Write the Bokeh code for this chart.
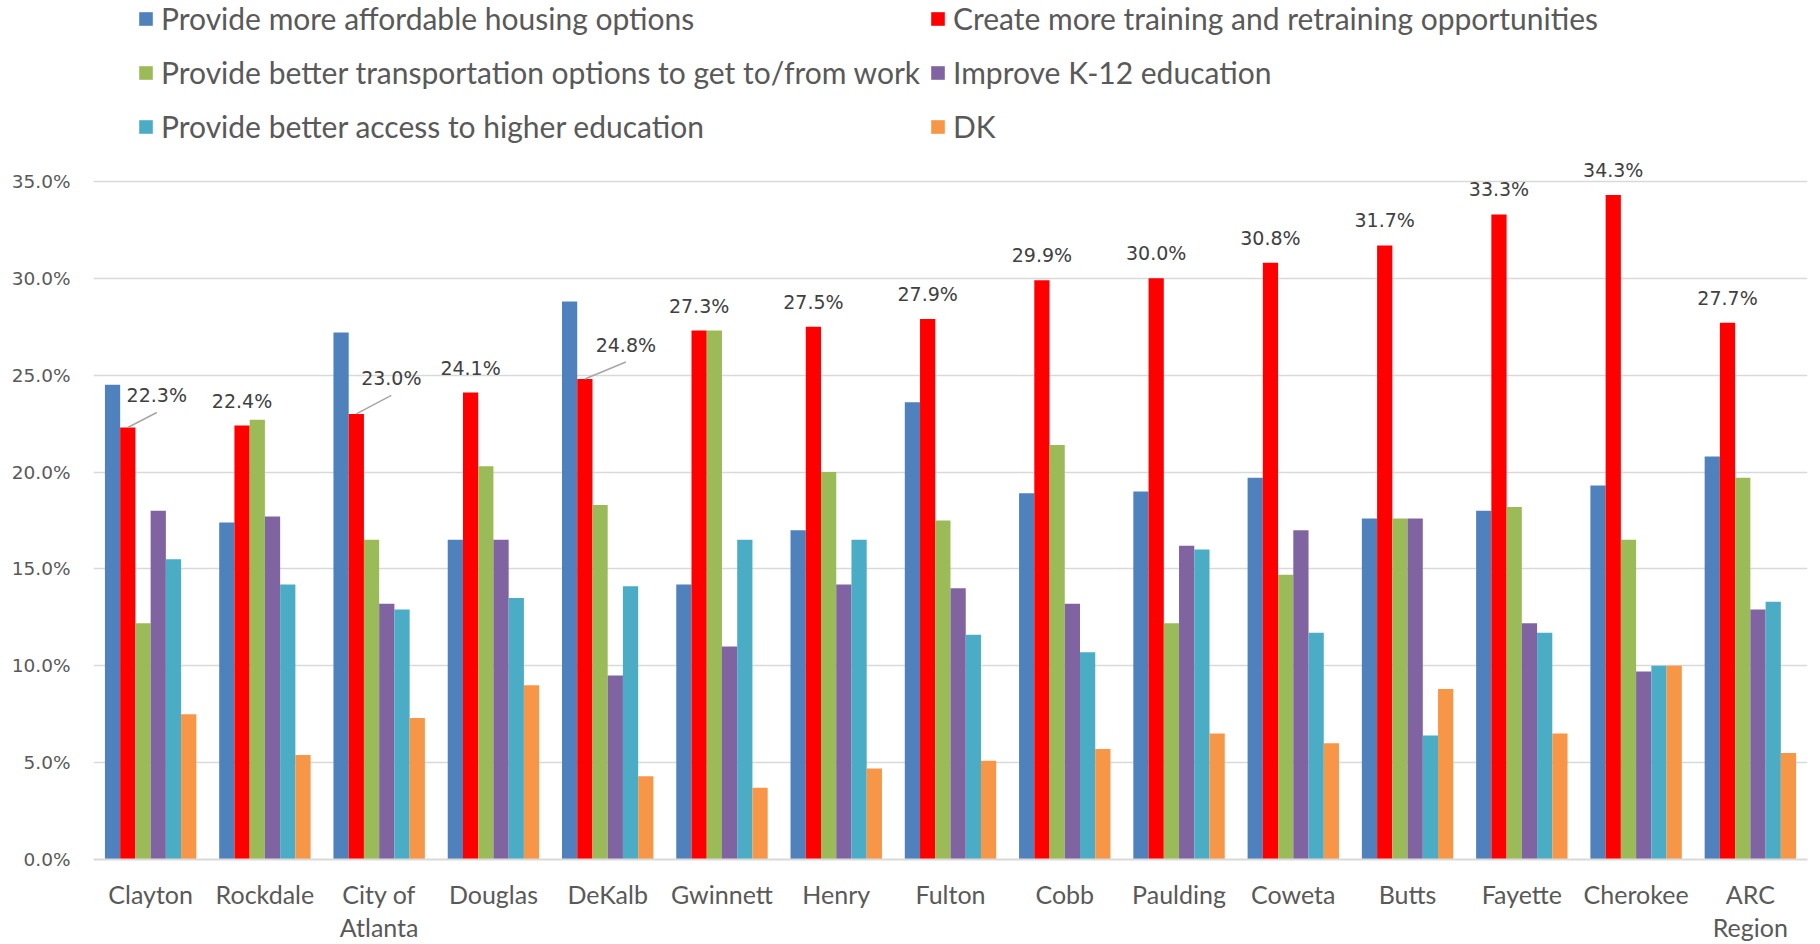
from bokeh.plotting import figure
from bokeh.models import (Range1d, FixedTicker, PrintfTickFormatter, Legend, LegendItem,
                          ColumnDataSource)
from bokeh.transform import dodge
from bokeh.embed import file_html
from bokeh.resources import INLINE
from bokeh.core.properties import value

# ---------------- data ----------------
categories = ["Clayton", "Rockdale", "City of Atlanta", "Douglas", "DeKalb", "Gwinnett", "Henry",
              "Fulton", "Cobb", "Paulding", "Coweta", "Butts", "Fayette", "Cherokee", "ARC Region"]
tick_labels = ["Clayton", "Rockdale", "City of\nAtlanta", "Douglas", "DeKalb", "Gwinnett", "Henry",
               "Fulton", "Cobb", "Paulding", "Coweta", "Butts", "Fayette", "Cherokee", "ARC\nRegion"]

series_names = ["Provide more affordable housing options",
                "Create more training and retraining opportunities",
                "Provide better transportation options to get to/from work",
                "Improve K-12 education",
                "Provide better access to higher education",
                "DK"]

affordable_housing = [24.5, 17.4, 27.2, 16.5, 28.8, 14.2, 17.0, 23.6, 18.9, 19.0, 19.7, 17.6, 18.0, 19.3, 20.8]
training = [22.3, 22.4, 23.0, 24.1, 24.8, 27.3, 27.5, 27.9, 29.9, 30.0, 30.8, 31.7, 33.3, 34.3, 27.7]
transportation = [12.2, 22.7, 16.5, 20.3, 18.3, 27.3, 20.0, 17.5, 21.4, 12.2, 14.7, 17.6, 18.2, 16.5, 19.7]
k12_education = [18.0, 17.7, 13.2, 16.5, 9.5, 11.0, 14.2, 14.0, 13.2, 16.2, 17.0, 17.6, 12.2, 9.7, 12.9]
higher_education = [15.5, 14.2, 12.9, 13.5, 14.1, 16.5, 16.5, 11.6, 10.7, 16.0, 11.7, 6.4, 11.7, 10.0, 13.3]
dont_know = [7.5, 5.4, 7.3, 9.0, 4.3, 3.7, 4.7, 5.1, 5.7, 6.5, 6.0, 8.8, 6.5, 10.0, 5.5]

y_ticks = [0, 5, 10, 15, 20, 25, 30, 35]

# ---------------- styles ----------------
colors = ["#4F81BD", "#FF0000", "#9BBB59", "#8064A2", "#4BACC6", "#F79646"]
W, H = 1820, 944
BORDER_L, BORDER_R, BORDER_T, BORDER_B = 93, 13, 0, 85
Y_TOP = 44.34
GROUP = 0.8
BW = GROUP / 6
TEXT_FONT = "Lato"
NUM_FONT = "DejaVu Sans"
# label nudges in screen px (dx right, dy up) for callout labels
label_nudge = {"Clayton": (29, 32), "City of Atlanta": (35, 35.5), "DeKalb": (41, 34)}
DEFAULT_UP = 25

series = [affordable_housing, training, transportation, k12_education, higher_education, dont_know]
idx = list(range(len(categories)))

src = ColumnDataSource(dict(idx=idx, cat=categories,
                            s0=series[0], s1=series[1], s2=series[2],
                            s3=series[3], s4=series[4], s5=series[5]))

p = figure(width=W, height=H, output_backend="svg", toolbar_location=None,
           x_range=Range1d(-0.5, len(categories) - 0.5), y_range=Range1d(0, Y_TOP),
           min_border_left=BORDER_L, min_border_right=BORDER_R,
           min_border_top=BORDER_T, min_border_bottom=BORDER_B)
p.outline_line_color = None
p.background_fill_color = "white"
p.border_fill_color = "white"

renderers = []
for k in range(6):
    off = (k - 2.5) * BW
    r = p.vbar(x=dodge("idx", off), top=f"s{k}", width=BW, bottom=0, source=src,
               fill_color=colors[k], line_color=None)
    renderers.append(r)

# axes
p.yaxis.ticker = FixedTicker(ticks=y_ticks)
p.yaxis.formatter = PrintfTickFormatter(format="%.1f%%")
p.yaxis.axis_line_color = None
p.yaxis.major_tick_line_color = None
p.yaxis.minor_tick_line_color = None
p.yaxis.major_tick_out = 0
p.yaxis.major_label_standoff = 23
p.yaxis.major_label_text_font = NUM_FONT
p.yaxis.major_label_text_font_size = "18.5px"
p.yaxis.major_label_text_color = "#595959"

p.ygrid.ticker = FixedTicker(ticks=y_ticks)
p.ygrid.grid_line_color = "#d9d9d9"
p.ygrid.grid_line_width = 1.5
p.xgrid.grid_line_color = None

p.xaxis.ticker = FixedTicker(ticks=idx)
p.xaxis.major_label_overrides = {i: t for i, t in zip(idx, tick_labels)}
p.xaxis.axis_line_color = "#d9d9d9"
p.xaxis.axis_line_width = 2
p.xaxis.major_tick_line_color = None
p.xaxis.minor_tick_line_color = None
p.xaxis.major_tick_out = 0
p.xaxis.major_label_standoff = 19
p.xaxis.major_label_text_font = TEXT_FONT
p.xaxis.major_label_text_font_size = "25px"
p.xaxis.major_label_text_color = "#595959"
p.xaxis.major_label_text_line_height = 1.1

# data labels for the training series
frame_w = W - BORDER_L - BORDER_R
frame_h = H - BORDER_T - BORDER_B
px_x = frame_w / len(categories)
px_y = frame_h / Y_TOP
red_off = (1 - 2.5) * BW
lx, ly, lxo, lyo, ltxt = [], [], [], [], []
seg = dict(x0=[], y0=[], x1=[], y1=[])
for i, c in enumerate(categories):
    v = training[i]
    dx, dy = label_nudge.get(c, (0, DEFAULT_UP))
    lx.append(i + red_off)
    ly.append(v)
    lxo.append(dx)
    lyo.append(-dy)
    ltxt.append(f"{v:.1f}%")
    if c in label_nudge:
        seg["x0"].append(i + red_off)
        seg["y0"].append(v)
        seg["x1"].append(i + red_off + dx / px_x)
        seg["y1"].append(v + (dy - 17) / px_y)

p.segment(x0="x0", y0="y0", x1="x1", y1="y1", source=ColumnDataSource(seg),
          line_color="#a6a6a6", line_width=1.5)
p.text(x="x", y="y", text="t", x_offset="xo", y_offset="yo",
       source=ColumnDataSource(dict(x=lx, y=ly, xo=lxo, yo=lyo, t=ltxt)),
       text_align="center", text_baseline="middle", text_font=value(NUM_FONT),
       text_font_size="19px", text_color="#404040")

# legends: two columns
def make_legend(ks, x):
    return Legend(items=[LegendItem(label=series_names[k], renderers=[renderers[k]]) for k in ks],
                  location=(x, 715), orientation="vertical",
                  glyph_width=17, glyph_height=17, label_standoff=7, label_height=36,
                  spacing=18, padding=0, margin=0, border_line_color=None,
                  background_fill_alpha=0, label_text_font=TEXT_FONT,
                  label_text_font_size="30px", label_text_color="#595959")

p.add_layout(make_legend([0, 2, 4], 44))
p.add_layout(make_legend([1, 3, 5], 836))

open("out.html", "w").write(file_html(p, INLINE))
